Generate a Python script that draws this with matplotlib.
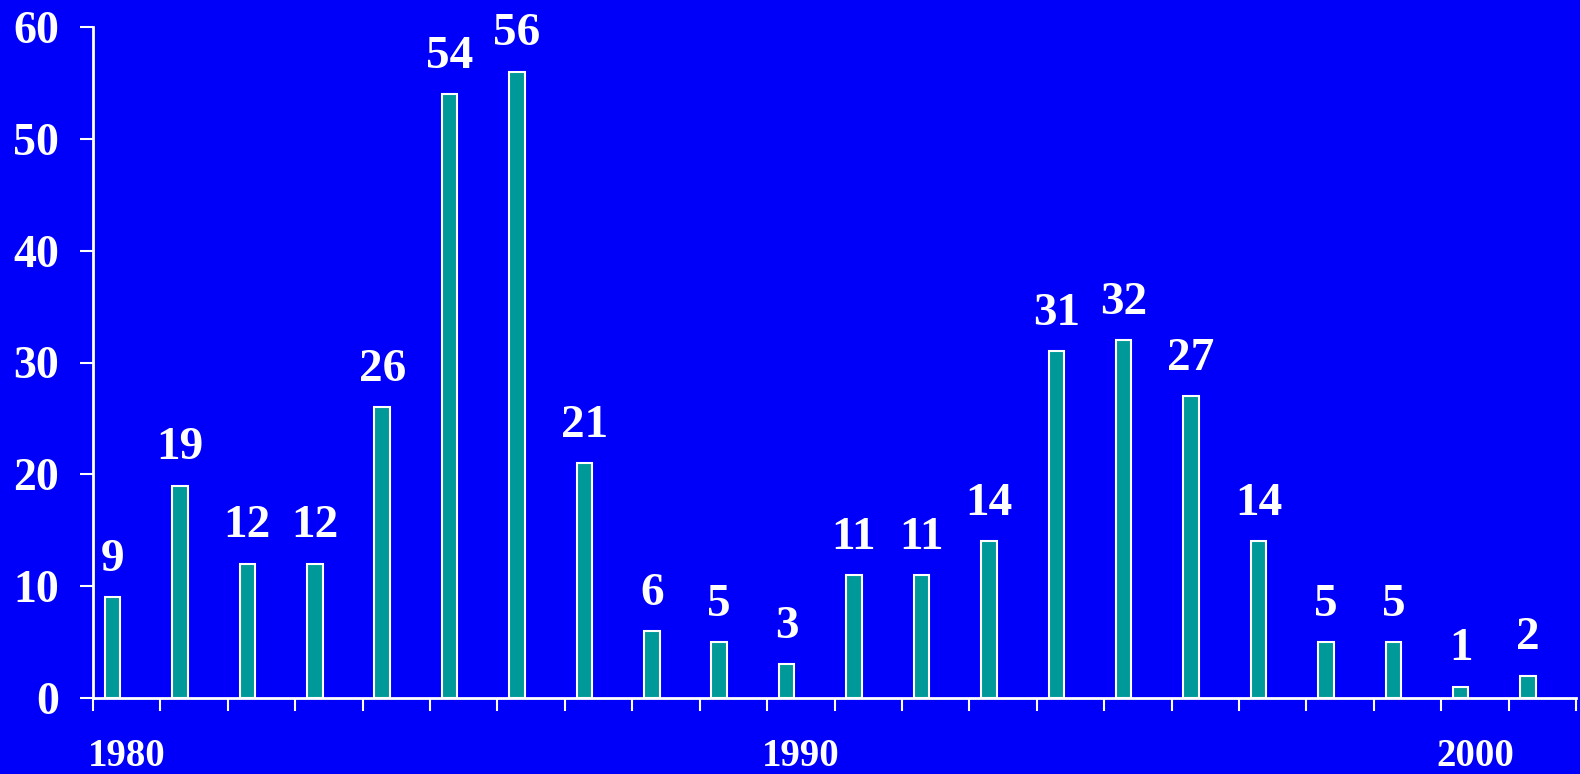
import matplotlib.pyplot as plt
import numpy as np

years = list(range(1980, 2002))
counts = [9, 19, 12, 12, 26, 54, 56, 21, 6, 5, 3, 11, 11, 14, 31, 32, 27, 14, 5, 5, 1, 2]
label_years = [1980, 1990, 2000]

plt.rcParams['font.family'] = ['Liberation Serif', 'DejaVu Serif']
plt.rcParams['font.weight'] = 'bold'

bg = '#0000fa'
fig = plt.figure(figsize=(15.8, 7.74), dpi=100, facecolor=bg)
ax = fig.add_axes([93/1580, 76/774, 1483/1580, 671/774], facecolor=bg)

x = np.arange(len(years))
bars = ax.bar(x - 0.21, counts, width=0.23, color='#009999',
              edgecolor='white', linewidth=1.5, zorder=3)

for xi, c in zip(x, counts):
    ax.annotate(str(c), (xi - 0.21, c), xytext=(0, 19), textcoords='offset points',
                ha='center', va='baseline', color='white', fontsize=34,
                fontweight='bold')

ax.set_xlim(-0.5, len(years) - 0.5)
ax.set_ylim(0, 60)

ax.set_yticks([0, 10, 20, 30, 40, 50, 60])
ax.tick_params(axis='y', colors='white', labelcolor='white', labelsize=33,
               length=9.5, width=1.5, pad=15)

# year boundaries get the tick marks, labels sit under the bars
ax.set_xticks(np.arange(-0.5, len(years)), minor=True)
ax.set_xticks([years.index(y) for y in label_years])
ax.set_xticklabels([str(y) for y in label_years])
ax.tick_params(axis='x', which='minor', colors='white', length=9.5, width=1.5,
               direction='out')
ax.tick_params(axis='x', which='major', length=0, labelcolor='white',
               labelsize=28, pad=28.5)

for s in ['top', 'right']:
    ax.spines[s].set_visible(False)
for s in ['left', 'bottom']:
    ax.spines[s].set_color('white')
    ax.spines[s].set_linewidth(2)

fig.savefig('out.png', dpi=100, facecolor=bg)
